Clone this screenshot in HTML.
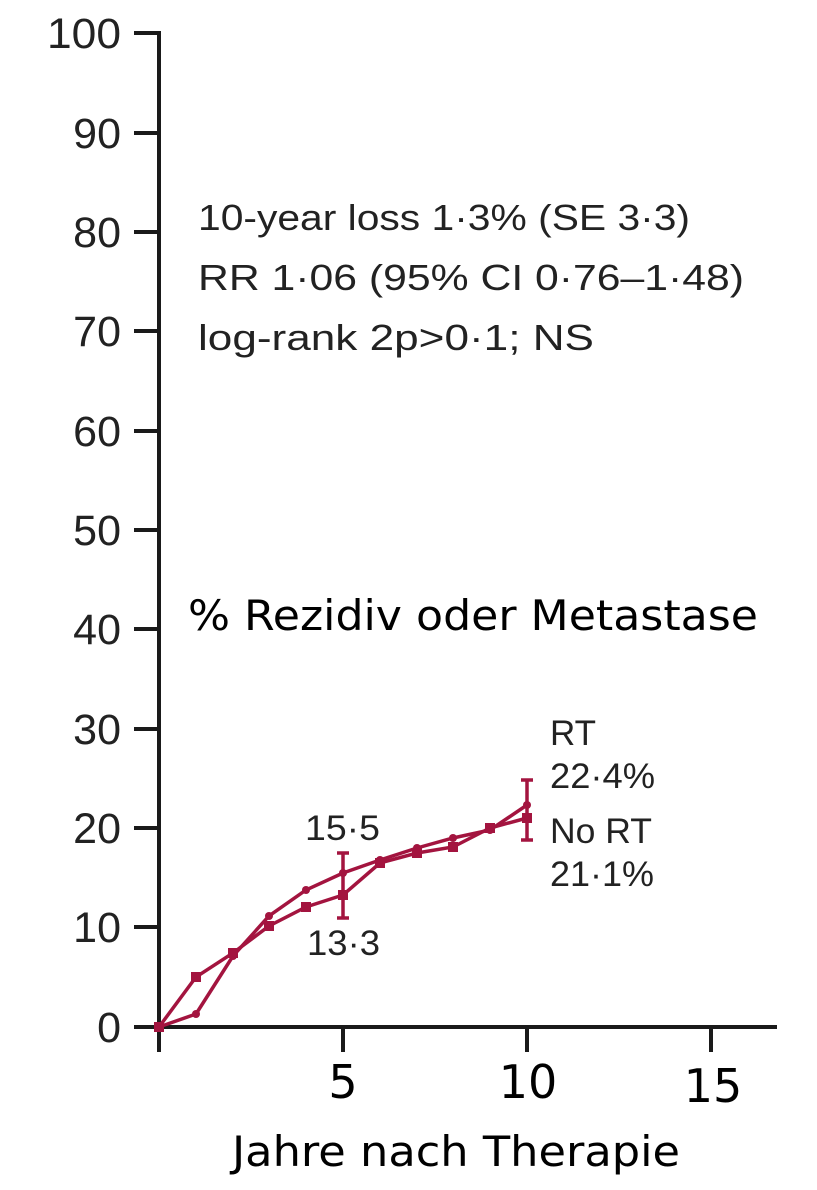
<!DOCTYPE html>
<html><head><meta charset="utf-8"><style>html,body{margin:0;padding:0;background:#fff}svg{display:block}</style></head>
<body>
<svg width="817" height="1190" viewBox="0 0 817 1190" xmlns="http://www.w3.org/2000/svg" font-family="Liberation Sans, sans-serif">
<g stroke="#1a1a1a" stroke-width="4" fill="none">
<line x1="159" y1="31" x2="159" y2="1029"/>
<line x1="157" y1="1027" x2="777" y2="1027"/>
<line x1="134" y1="33" x2="159" y2="33"/>
<line x1="134" y1="133" x2="159" y2="133"/>
<line x1="134" y1="232" x2="159" y2="232"/>
<line x1="134" y1="331" x2="159" y2="331"/>
<line x1="134" y1="431" x2="159" y2="431"/>
<line x1="134" y1="530" x2="159" y2="530"/>
<line x1="134" y1="629" x2="159" y2="629"/>
<line x1="134" y1="729" x2="159" y2="729"/>
<line x1="134" y1="828" x2="159" y2="828"/>
<line x1="134" y1="927" x2="159" y2="927"/>
<line x1="134" y1="1027" x2="159" y2="1027"/>
<line x1="159" y1="1027" x2="159" y2="1052"/>
<line x1="343" y1="1027" x2="343" y2="1052"/>
<line x1="527" y1="1027" x2="527" y2="1052"/>
<line x1="711" y1="1027" x2="711" y2="1052"/>
</g>
<g font-size="43" fill="#222" text-anchor="end">
<text x="121" y="48" textLength="74" lengthAdjust="spacingAndGlyphs">100</text>
<text x="121" y="148">90</text>
<text x="121" y="247">80</text>
<text x="121" y="346">70</text>
<text x="121" y="446">60</text>
<text x="121" y="545">50</text>
<text x="121" y="644">40</text>
<text x="121" y="744">30</text>
<text x="121" y="843">20</text>
<text x="121" y="942">10</text>
<text x="121" y="1042">0</text>
</g>
<g font-size="46" fill="#000" text-anchor="middle" font-family="DejaVu Sans, sans-serif">
<text x="343" y="1098">5</text>
<text x="528" y="1098">10</text>
<text x="713" y="1102">15</text>
<text x="456" y="1166" font-size="42" textLength="448" lengthAdjust="spacingAndGlyphs">Jahre nach Therapie</text>
</g>
<g font-size="36" fill="#222">
<text x="198" y="230" textLength="492" lengthAdjust="spacingAndGlyphs">10-year loss 1·3% (SE 3·3)</text>
<text x="198" y="290" textLength="546" lengthAdjust="spacingAndGlyphs">RR 1·06 (95% CI 0·76–1·48)</text>
<text x="198" y="350" textLength="396" lengthAdjust="spacingAndGlyphs">log-rank 2p&gt;0·1; NS</text>
</g>
<text x="188" y="630" font-size="42" fill="#000" font-family="DejaVu Sans, sans-serif" textLength="570" lengthAdjust="spacingAndGlyphs">% Rezidiv oder Metastase</text>
<g font-size="35" fill="#222">
<text x="550" y="745">RT</text>
<text x="550" y="788" textLength="105" lengthAdjust="spacingAndGlyphs">22·4%</text>
<text x="550" y="843" textLength="102" lengthAdjust="spacingAndGlyphs">No RT</text>
<text x="550" y="886" textLength="104" lengthAdjust="spacingAndGlyphs">21·1%</text>
<text x="305" y="840" textLength="75" lengthAdjust="spacingAndGlyphs">15·5</text>
<text x="307" y="955" textLength="73" lengthAdjust="spacingAndGlyphs">13·3</text>
</g>
<g stroke="#a3143f" stroke-width="3.5" fill="#a3143f">
<polyline fill="none" points="159,1027 196,1014 233,956 269,916 306,890 343,873 380,860 417,848 453,838 490,830 527,805"/>
<polyline fill="none" points="159,1027 196,977 233,953 269,926 306,907 343,895 380,863 417,853 453,847 490,828 527,818"/>
<line x1="343" y1="853" x2="343" y2="918"/>
<line x1="527" y1="780" x2="527" y2="840"/>
<line x1="337" y1="853" x2="349" y2="853"/><line x1="337" y1="918" x2="349" y2="918"/>
<line x1="521" y1="780" x2="533" y2="780"/><line x1="521" y1="840" x2="533" y2="840"/>
<g stroke="none">
<circle cx="196" cy="1014" r="4"/><circle cx="233" cy="956" r="4"/><circle cx="269" cy="916" r="4"/><circle cx="306" cy="890" r="4"/><circle cx="343" cy="873" r="4"/><circle cx="380" cy="860" r="4"/><circle cx="417" cy="848" r="4"/><circle cx="453" cy="838" r="4"/><circle cx="490" cy="830" r="4"/><circle cx="527" cy="805" r="4"/>
<rect x="154" y="1022" width="10" height="10"/><rect x="191" y="972" width="10" height="10"/><rect x="228" y="948" width="10" height="10"/><rect x="264" y="921" width="10" height="10"/><rect x="301" y="902" width="10" height="10"/><rect x="338" y="890" width="10" height="10"/><rect x="375" y="858" width="10" height="10"/><rect x="412" y="848" width="10" height="10"/><rect x="448" y="842" width="10" height="10"/><rect x="485" y="823" width="10" height="10"/><rect x="522" y="813" width="10" height="10"/>
</g>
</g>
</svg>
</body></html>
